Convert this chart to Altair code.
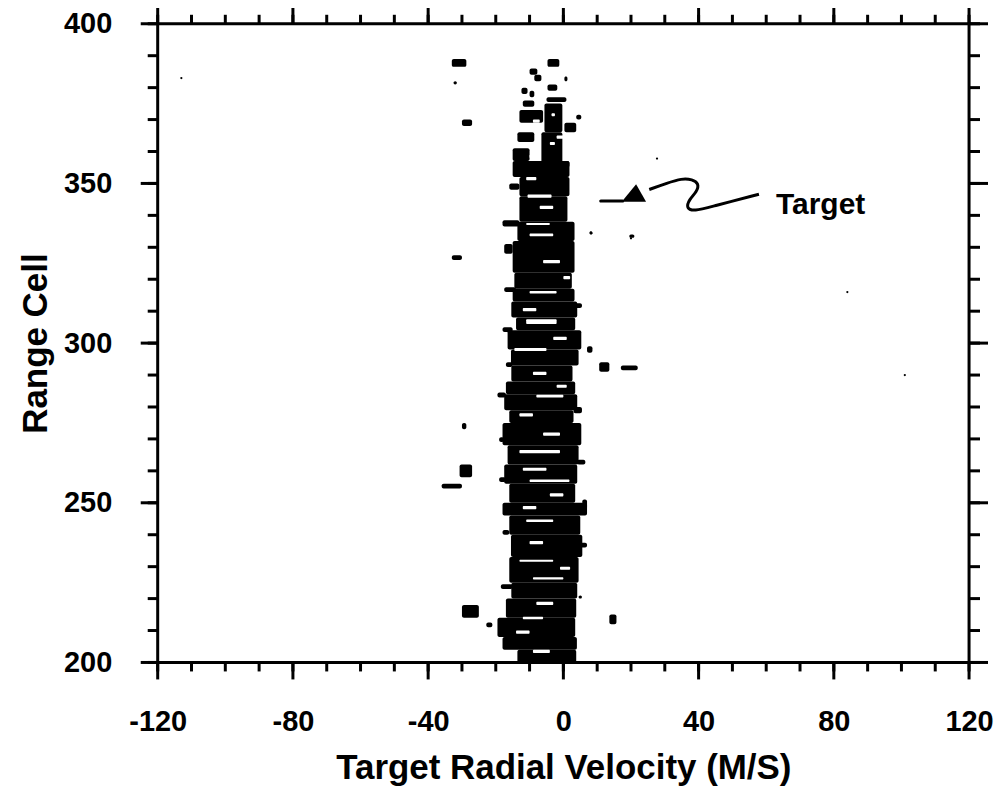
import altair as alt
import pandas as pd

W, H = 813, 640
FONT = "Liberation Sans"

# ---- main clutter bands (range cell from/to, velocity from/to) ----
band_r1 = [352, 346, 348, 338, 336.5, 332, 322, 328, 317, 313, 308, 304, 298, 293, 288, 284, 279, 275,
           268, 262, 256, 250, 246, 240, 233, 225, 220, 214, 208, 204, 200]
band_r2 = [357, 352, 350, 346, 338.5, 338, 332, 331, 322, 317, 313, 308, 304, 298, 293, 288, 284, 279,
           275, 268, 262, 256, 250, 246, 240, 233, 225, 220, 214, 208, 204]
band_v1 = [-15, -13, -16, -13, -18, -13.6, -15, -17.5, -14.5, -15, -15.4, -14, -16.5, -15.5, -15.4, -17, -17.5, -16,
           -18, -16.5, -17.5, -16, -18, -16, -15.5, -16, -15.4, -17, -19.5, -18, -13.6]
band_v2 = [1.8, 1.8, -13, 1.2, -13, 3.3, 3.3, -15, 2.5, 3.3, 4.1, 3.5, 5.3, 4.5, 2.7, 3.5, 4.1, 3,
           5.3, 4.5, 4.1, 3.5, 7, 5, 5.6, 4.5, 4.1, 3.8, 3.5, 4, 3.8]

# ---- separate echo clumps and edge dashes ----
blob_r1 = [386.5, 384, 382, 382, 379, 378, 377, 375.5, 374, 369, 366, 366, 370, 363, 355, 357, 355,
           386.5, 381, 368, 344, 334, 333, 326, 297, 291, 291.5, 273, 258, 254.5, 248, 220, 214, 211, 212,
           316, 303.5, 292.5, 283, 269, 256.5, 240, 223, 278, 262, 236, 311]
blob_r2 = [389, 386, 384, 383.5, 381, 380, 379, 377, 376, 373, 375, 369, 371.5, 366, 366, 361, 357,
           389, 382, 370, 345, 335, 334, 327.5, 299, 294, 293, 275, 262, 256, 251, 221, 218, 212.5, 215,
           317.5, 305, 294, 284.5, 270.5, 258, 241.5, 224.5, 280, 263.5, 237.5, 312.5]
blob_v1 = [-4.7, -10, -8.6, 0.3, -4.7, -12.4, -10, -5, -12, -13, -5.6, 0.3, 3.8, -13.6, -6.5, -15, -0.3,
           -33, -32.5, -30, 10.6, 7.7, 19.5, -33, 7, 10.6, 17, -30, -30.7, -36, 5.6, 4.5, -30, -22.8, 13.6,
           -17.5, -18, -17, -19.5, -19, -19, -18, -18.5, 3, 4, 4.5, 3]
blob_v2 = [-1.2, -7.7, -6.5, 1.2, -1.8, -10.6, -8.6, 0.9, -8.6, -6, -0.3, 3.8, 5.3, -8.6, -0.3, -10, 1.8,
           -28.7, -31.5, -27, 18, 8.6, 21, -30, 8.6, 13.6, 22, -28.7, -27, -30, 7, 5.5, -25, -21, 15.7,
           -14, -15, -15, -17, -17.5, -17, -16, -15, 5.5, 6.5, 7, 5.5]

# ---- gaps inside the clutter ----
hole_r1 = [306, 297.5, 315.5, 265.5, 260, 231.5, 345.5, 337, 333.5, 256.5, 226, 213.5, 283, 244,
           371, 362, 358, 325, 320, 310, 301, 290, 286, 277, 271, 252, 248, 237, 229, 218, 209, 203, 342, 351, 369, 364]
hole_r2 = [307.5, 298.5, 316.3, 266.5, 261, 232.2, 346.5, 337.6, 334.3, 257.3, 226.7, 214.3, 283.8, 244.8,
           372, 363, 359, 326, 321, 311, 302, 291, 287, 278, 272, 253, 249, 238, 230, 219, 210, 204, 343, 352, 370, 365]
hole_v1 = [-11, -14.5, -10, -13, -12, -13, -10.6, -11, -10, -10, -9, -12, -8, -11,
           -3.5, -4, -10, -6, 0, -12, -3, -9, -2, -13, -6, -4, -12, -10, -1, -8, -14, -9, -7, -11, -9, -2]
hole_v2 = [-2, -5, -2, -1, -5, -3, -3.5, -4, -3, 1.8, 0, -6, 0, -3,
           -2.5, -2.5, -8, -1, 2, -8, 1, -5, 1, -9, -1, 0, -8, -6, 2, -3, -10, -4, -3, -8, -7, 0]

# ---- faint single dots ----
dot_v = [27.7, 8.3, 20.0, -113, 101, 84]
dot_r = [357.8, 334.4, 332.8, 383, 290, 316]

# ---- annotation ----
curve_v = [57.85, 43.98, 38.67, 36.3, 37.2, 39.55, 40.1, 38.1, 35.1, 30.4, 25.4]
curve_r = [346.6, 342.8, 341.25, 342.2, 345.0, 347.5, 350.0, 351.25, 351.6, 350.0, 348.1]
head_v, head_r = 20.96, 346.25
label_v, label_r, label_text = 62.9, 340.3, "Target"

x_major = [-120, -80, -40, 0, 40, 80, 120]
x_minor = [-120, -110, -100, -90, -80, -70, -60, -50, -40, -30, -20, -10, 0,
           10, 20, 30, 40, 50, 60, 70, 80, 90, 100, 110, 120]
y_major = [200, 250, 300, 350, 400]
y_minor = [200, 210, 220, 230, 240, 250, 260, 270, 280, 290, 300, 310, 320, 330, 340,
           350, 360, 370, 380, 390, 400]

xs = alt.Scale(domain=[-120, 120], nice=False, zero=False)
ys = alt.Scale(domain=[200, 400], nice=False, zero=False)

X_AX = alt.Axis(values=x_major, ticks=False, tickSize=0, domain=False, grid=False,
                labelFlush=False, labelExpr="toString(datum.value)",
                labelPadding=45, labelFontSize=29, labelFont=FONT, labelFontWeight="bold",
                labelColor="black", title="Target Radial Velocity (M/S)",
                titleFont=FONT, titleFontWeight="bold", titleColor="black",
                titleFontSize=35, titleY=116, titleBaseline="alphabetic")
Y_AX = alt.Axis(values=y_major, ticks=False, tickSize=0, domain=False, grid=False,
                labelFlush=False, labelExpr="toString(datum.value)",
                labelPadding=46, labelFontSize=29, labelFont=FONT, labelFontWeight="bold",
                labelColor="black", title="Range Cell",
                titleFont=FONT, titleFontWeight="bold", titleColor="black",
                titleFontSize=35, titleX=-111, titleBaseline="alphabetic")


def X(f):
    return alt.X(f, scale=xs, axis=X_AX)


def Y(f):
    return alt.Y(f, scale=ys, axis=Y_AX)


bands = pd.DataFrame({"r1": band_r1 + blob_r1, "r2": band_r2 + blob_r2,
                      "v1": band_v1 + blob_v1, "v2": band_v2 + blob_v2})
holes = pd.DataFrame({"r1": hole_r1, "r2": hole_r2, "v1": hole_v1, "v2": hole_v2})
dots = pd.DataFrame({"v": dot_v, "r": dot_r})
curve = pd.DataFrame({"v": curve_v, "r": curve_r, "i": list(range(len(curve_v)))})
head = pd.DataFrame({"v": [head_v], "r": [head_r]})
lab = pd.DataFrame({"v": [label_v], "r": [label_r], "t": [label_text]})

main = alt.Chart(bands).mark_rect(color="black", cornerRadius=2).encode(
    x=X("v1:Q"), x2="v2:Q", y=Y("r1:Q"), y2="r2:Q")

hole_layer = alt.Chart(holes).mark_rect(color="white", cornerRadius=1).encode(
    x=X("v1:Q"), x2="v2:Q", y=Y("r1:Q"), y2="r2:Q")

dot_layer = alt.Chart(dots).mark_circle(color="black", size=5, opacity=1).encode(
    x=X("v:Q"), y=Y("r:Q"))

curve_layer = alt.Chart(curve).mark_line(color="black", strokeWidth=3, interpolate="basis").encode(
    x=X("v:Q"), y=Y("r:Q"), order="i:Q")

head_layer = alt.Chart(head).mark_point(
    shape="M-1,0.5L0.15,-0.9L0.95,0.5Z", size=625, filled=True, color="black", opacity=1
).encode(x=X("v:Q"), y=Y("r:Q"))

text_layer = alt.Chart(lab).mark_text(
    align="left", baseline="alphabetic", font=FONT, fontSize=30, fontWeight="bold", color="black"
).encode(x=X("v:Q"), y=Y("r:Q"), text="t:N")


def xticks(vals, y0, y1):
    return alt.Chart(pd.DataFrame({"t": vals})).mark_rule(color="black", strokeWidth=3).encode(
        x=X("t:Q"), y=alt.value(y0), y2=alt.value(y1))


def yticks(vals, x0, x1):
    return alt.Chart(pd.DataFrame({"t": vals})).mark_rule(color="black", strokeWidth=3).encode(
        y=Y("t:Q"), x=alt.value(x0), x2=alt.value(x1))


tick_layers = [
    xticks(x_minor, H, H + 9), xticks(x_major, H, H + 17),
    xticks(x_minor, 0, -9), xticks(x_major, 0, -17),
    yticks(y_minor, 0, -10), yticks(y_major, 0, -17),
    yticks(y_minor, W, W + 11), yticks(y_major, W, W + 19),
]

chart = alt.layer(main, hole_layer, dot_layer, curve_layer, head_layer, text_layer, *tick_layers).properties(
    width=W, height=H,
    padding={"left": 150, "top": 15, "right": 25, "bottom": 125},
    autosize=alt.AutoSizeParams(type="none"),
    background="white",
).configure_view(stroke="black", strokeWidth=3)

chart.save("out.html", embed_options={"renderer": "svg", "actions": False})
